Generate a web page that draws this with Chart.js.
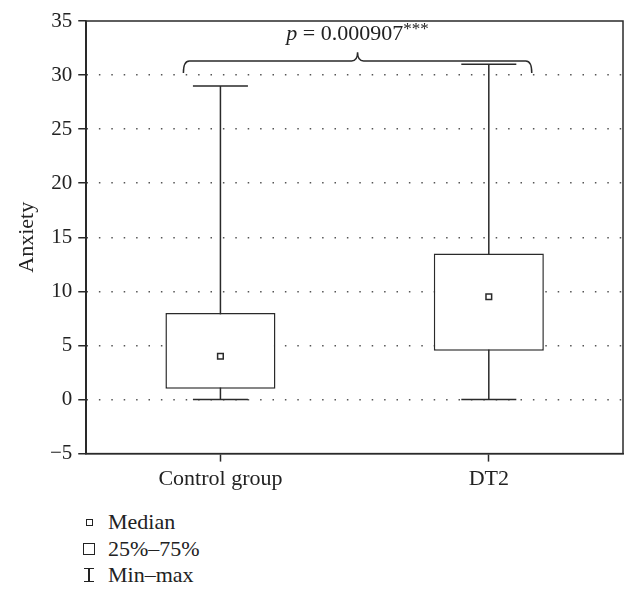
<!DOCTYPE html>
<html>
<head>
    <title>Anxiety - Control group vs DT2</title>
    <script src="https://cdn.jsdelivr.net/npm/chart.js"></script>
    <style>
        body {
            margin: 0;
            background: #fff;
            font-family: "Liberation Serif", "DejaVu Serif", serif;
            color: #222;
        }

        #wrap {
            width: 643px;
            height: 496px;
            position: relative;
        }

        #legend {
            margin-left: 78px;
            margin-top: 13px;
            font-size: 22px;
        }

        .row {
            display: flex;
            align-items: center;
            height: 26.5px;
        }

        .mk {
            width: 22px;
            margin-right: 8px;
            display: flex;
            justify-content: center;
            align-items: center;
        }

        .sq-small {
            width: 5px;
            height: 5px;
            border: 1.5px solid #222;
        }

        .sq-big {
            width: 10px;
            height: 10px;
            border: 1.5px solid #222;
        }

        .minmax {
            width: 10px;
            height: 12px;
            border-top: 1.5px solid #222;
            border-bottom: 1.5px solid #222;
            position: relative;
        }

        .minmax::after {
            content: "";
            position: absolute;
            left: 4.25px;
            top: 0;
            width: 1.5px;
            height: 12px;
            background: #222;
        }
    </style>
</head>
<body>
    <div id="wrap">
        <canvas id="myChart"></canvas>
    </div>
    <div id="legend">
        <div class="row"><span class="mk"><span class="sq-small"></span></span>Median</div>
        <div class="row"><span class="mk"><span class="sq-big"></span></span>25%&ndash;75%</div>
        <div class="row"><span class="mk"><span class="minmax"></span></span>Min&ndash;max</div>
    </div>

    <script>
        // data
        const categories = ['Control group', 'DT2'];
        const minValues = [0, 0];
        const q1Values = [1, 4.5];
        const medianValues = [4, 9.5];
        const q3Values = [8, 13.5];
        const maxValues = [29, 31];
        const yTickValues = [-5, 0, 5, 10, 15, 20, 25, 30, 35];
        const pText = '0.000907';

        const lineColor = '#2a2a2a';
        const serif = '"Liberation Serif", "DejaVu Serif", serif';

        // whiskers + caps, drawn under the boxes
        const whiskerPlugin = {
            id: 'whiskers',
            beforeDatasetsDraw(chart) {
                const ctx = chart.ctx;
                const x = chart.scales.x;
                const y = chart.scales.y;
                const bars = chart.getDatasetMeta(1).data;
                ctx.save();
                ctx.strokeStyle = lineColor;
                ctx.lineWidth = 1.5;
                categories.forEach((c, i) => {
                    const cx = x.getPixelForValue(i);
                    const half = bars[i].width / 4;
                    const yMin = y.getPixelForValue(minValues[i]);
                    const yMax = y.getPixelForValue(maxValues[i]);
                    ctx.beginPath();
                    ctx.moveTo(cx, yMin);
                    ctx.lineTo(cx, yMax);
                    ctx.moveTo(cx - half, yMin);
                    ctx.lineTo(cx + half, yMin);
                    ctx.moveTo(cx - half, yMax);
                    ctx.lineTo(cx + half, yMax);
                    ctx.stroke();
                });
                ctx.restore();
            }
        };

        // frame round the plot area and the significance bracket
        const framePlugin = {
            id: 'frame',
            afterDatasetsDraw(chart) {
                const ctx = chart.ctx;
                const a = chart.chartArea;
                const x = chart.scales.x;
                const y = chart.scales.y;
                ctx.save();
                ctx.strokeStyle = lineColor;
                ctx.lineWidth = 1.5;
                ctx.strokeRect(a.left, a.top, a.right - a.left, a.bottom - a.top);

                // bracket
                const xl = x.getPixelForValue(-0.138);
                const xr = x.getPixelForValue(1.16);
                const xm = (xl + xr) / 2;
                const yEnd = y.getPixelForValue(30.2);
                const yBar = y.getPixelForValue(31.3);
                const yTip = y.getPixelForValue(32.1);
                const r = 6;
                ctx.beginPath();
                ctx.moveTo(xl, yEnd);
                ctx.quadraticCurveTo(xl, yBar, xl + r, yBar);
                ctx.lineTo(xm - r, yBar);
                ctx.quadraticCurveTo(xm, yBar, xm, yTip);
                ctx.quadraticCurveTo(xm, yBar, xm + r, yBar);
                ctx.lineTo(xr - r, yBar);
                ctx.quadraticCurveTo(xr, yBar, xr, yEnd);
                ctx.stroke();

                // p-value label
                const ty = y.getPixelForValue(33.2);
                ctx.fillStyle = '#222';
                ctx.textBaseline = 'alphabetic';
                ctx.font = 'italic 22px ' + serif;
                const pW = ctx.measureText('p').width;
                ctx.font = '22px ' + serif;
                const mainStr = ' = ' + pText;
                const mW = ctx.measureText(mainStr).width;
                ctx.font = '17px ' + serif;
                const sW = ctx.measureText('***').width;
                let tx = xm - (pW + mW + sW) / 2;
                ctx.font = 'italic 22px ' + serif;
                ctx.fillText('p', tx, ty);
                tx += pW;
                ctx.font = '22px ' + serif;
                ctx.fillText(mainStr, tx, ty);
                tx += mW;
                ctx.font = '17px ' + serif;
                ctx.fillText('***', tx, ty - 6);
                ctx.restore();
            }
        };

        const myChart = new Chart(document.getElementById('myChart'), {
            data: {
                labels: categories,
                datasets: [
                    {
                        type: 'line',
                        label: 'Median',
                        data: medianValues,
                        showLine: false,
                        pointStyle: 'rect',
                        pointRadius: 4,
                        pointBorderWidth: 1.5,
                        pointBackgroundColor: '#fff',
                        pointBorderColor: lineColor,
                        order: 0
                    },
                    {
                        type: 'bar',
                        label: '25%-75%',
                        data: categories.map((c, i) => [q1Values[i], q3Values[i]]),
                        backgroundColor: '#fff',
                        borderColor: lineColor,
                        borderWidth: 1.5,
                        borderSkipped: false,
                        barPercentage: 0.41,
                        categoryPercentage: 1,
                        order: 1
                    }
                ]
            },
            options: {
                responsive: true,
                maintainAspectRatio: false,
                animation: false,
                layout: {
                    padding: { top: 21, right: 20, left: 14.5, bottom: 0 }
                },
                plugins: {
                    legend: { display: false },
                    tooltip: { enabled: false }
                },
                scales: {
                    x: {
                        type: 'category',
                        offset: true,
                        grid: {
                            offset: false,
                            drawOnChartArea: false,
                            drawTicks: true,
                            tickLength: 8,
                            tickColor: lineColor,
                            tickWidth: 1.5
                        },
                        border: { color: lineColor, width: 1.5 },
                        ticks: {
                            color: '#222',
                            font: { family: serif, size: 22 },
                            padding: 4
                        }
                    },
                    y: {
                        min: -5,
                        max: 35,
                        afterBuildTicks: (scale) => {
                            scale.ticks = yTickValues.map(v => ({ value: v }));
                        },
                        grid: {
                            color: (c) => (c.tick && (c.tick.value === -5 || c.tick.value === 35)) ? 'rgba(0,0,0,0)' : '#555',
                            lineWidth: 1.5,
                            drawTicks: true,
                            tickLength: 8,
                            tickColor: lineColor,
                            tickWidth: 1.5,
                            tickBorderDash: []
                        },
                        border: { color: lineColor, width: 1.5, dash: [1.5, 10.9] },
                        ticks: {
                            color: '#222',
                            font: { family: serif, size: 21 },
                            padding: 6,
                            callback: (v) => String(v).replace('-', '\u2212')
                        },
                        title: {
                            display: true,
                            text: 'Anxiety',
                            color: '#222',
                            font: { family: serif, size: 22 },
                            padding: { top: 0, bottom: 3 }
                        }
                    }
                }
            },
            plugins: [whiskerPlugin, framePlugin]
        });
    </script>
</body>
</html>
